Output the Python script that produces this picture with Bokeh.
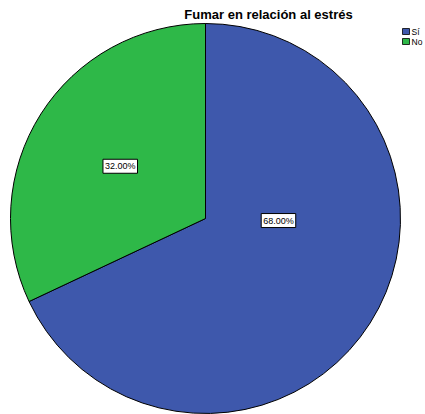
import math
from bokeh.plotting import figure
from bokeh.models import Range1d, ColumnDataSource
from bokeh.core.properties import value
from bokeh.embed import file_html
from bokeh.resources import INLINE

# ---- data ----
categories = ["Sí", "No"]
percentages = [68.0, 32.0]
colors = ["#3E58AC", "#2EB848"]
title_text = "Fumar en relación al estrés"

# ---- layout ----
W, H = 425, 414
cx, cy, R = 205, 196, 195
label_angle_deg = [-1.6, 148.5]   # label placement direction (layout)
label_dist = [73, 100]            # label distance from center in px (layout)

total = sum(percentages)
starts, ends = [], []
acc = 0.0
for pct in percentages:
    a0 = math.pi / 2 - 2 * math.pi * (acc + pct) / total
    a1 = math.pi / 2 - 2 * math.pi * acc / total
    starts.append(a0)
    ends.append(a1)
    acc += pct

src = ColumnDataSource(dict(
    x=[cx] * len(categories), y=[cy] * len(categories),
    start=starts, end=ends, color=colors, cat=categories,
))

p = figure(width=W, height=H, x_range=Range1d(0, W), y_range=Range1d(0, H),
           output_backend="svg", toolbar_location=None, min_border=0)
p.axis.visible = False
p.grid.visible = False
p.outline_line_color = None
p.background_fill_color = "white"

p.wedge(x="x", y="y", radius=R, start_angle="start", end_angle="end",
        fill_color="color", line_color="black", line_width=1, source=src)

# percentage labels
lab_src = ColumnDataSource(dict(
    x=[cx + d * math.cos(math.radians(a)) for a, d in zip(label_angle_deg, label_dist)],
    y=[cy + d * math.sin(math.radians(a)) for a, d in zip(label_angle_deg, label_dist)],
    t=[f"{v:.2f}%" for v in percentages],
))
p.text(x="x", y="y", text="t", source=lab_src,
       text_align="center", text_baseline="middle",
       text_font=value("Liberation Sans"), text_font_size="9px",
       text_color="black",
       background_fill_color="white", border_line_color="black",
       border_line_width=1, padding=2)

# title
p.text(x=[268], y=[400], text=[title_text], text_align="center",
       text_baseline="middle", text_font=value("Liberation Sans"),
       text_font_size="13px", text_font_style="bold", text_color="black")

# legend
leg_y = [383, 373]
p.rect(x=[405.5] * len(categories), y=leg_y, width=7, height=6,
       fill_color=colors, line_color="black", line_width=0.8)
p.text(x=[411] * len(categories), y=leg_y, text=categories,
       text_align="left", text_baseline="middle",
       text_font=value("Liberation Sans"), text_font_size="8.5px",
       text_color="black")

open("out.html", "w").write(file_html(p, INLINE))
